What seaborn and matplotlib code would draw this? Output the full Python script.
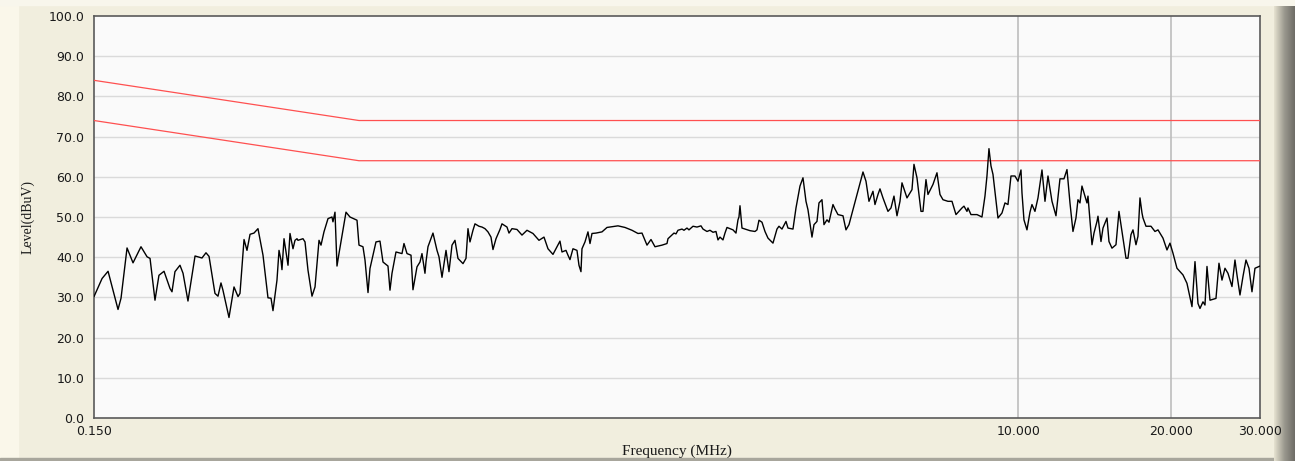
import numpy as np
import pandas as pd
import seaborn as sns
import matplotlib.pyplot as plt
from matplotlib.ticker import FixedLocator, NullLocator

# scan trace (MHz, dBuV)
freq_mhz = [
    0.150, 0.1556, 0.1599, 0.1673, 0.1696, 0.1743, 0.1791, 0.1857, 0.1909, 0.1935,
    0.1979, 0.2015, 0.2062, 0.2119, 0.2138, 0.2167, 0.2217, 0.2248, 0.2299, 0.2374,
    0.2450, 0.2495, 0.2530, 0.2599, 0.2635, 0.2671, 0.2695, 0.2770, 0.2834, 0.2886,
    0.2912, 0.2952, 0.2966, 0.3006, 0.3048, 0.3103, 0.3160, 0.3233, 0.3307, 0.3353,
    0.3383, 0.3445, 0.3477, 0.3508, 0.3524, 0.3557, 0.3605, 0.3622, 0.3655, 0.3705,
    0.3739, 0.3773, 0.3790, 0.3877, 0.3913, 0.3966, 0.4039, 0.4095, 0.4170, 0.4208,
    0.4265, 0.4344, 0.4423, 0.4443, 0.4484, 0.4525, 0.4566, 0.4714, 0.4800, 0.4956,
    0.5001, 0.5092, 0.5139, 0.5210, 0.5257, 0.5402, 0.5501, 0.5577, 0.5705, 0.5757,
    0.5810, 0.5916, 0.6080, 0.6135, 0.6220, 0.6334, 0.6391, 0.6509, 0.6598, 0.6658,
    0.6749, 0.6780, 0.6842, 0.6999, 0.7128, 0.7193, 0.7292, 0.7426, 0.7527, 0.7631,
    0.7735, 0.7841, 0.8022, 0.8132, 0.8206, 0.8281, 0.8394, 0.8471, 0.8626, 0.8745,
    0.8865, 0.8986, 0.9110, 0.9193, 0.9320, 0.9490, 0.9577, 0.9797, 0.9887, 1.0022,
    1.0252, 1.0488, 1.0729, 1.1025, 1.1330, 1.1591, 1.1803, 1.2074, 1.2464, 1.2578,
    1.2809, 1.2926, 1.3044, 1.3223, 1.3465, 1.3588, 1.3712, 1.3775, 1.3964, 1.4155,
    1.4286, 1.4416, 1.4681, 1.5086, 1.5433, 1.6224, 1.6748, 1.7289, 1.7767, 1.8094,
    1.8510, 1.8849, 1.9194, 1.9815, 2.0270, 2.0362, 2.0924, 2.1116, 2.1308, 2.1699,
    2.1897, 2.2197, 2.2400, 2.2812, 2.3230, 2.3656, 2.3872, 2.4310, 2.4643, 2.4981,
    2.5324, 2.5555, 2.5788, 2.6142, 2.6381, 2.6622, 2.7110, 2.7357, 2.7733, 2.7986,
    2.8113, 2.8243, 2.8501, 2.8892, 2.9556, 3.0235, 3.0511, 3.0789, 3.1212, 3.1640,
    3.2074, 3.2810, 3.3412, 3.3717, 3.4180, 3.4807, 3.5124, 3.5933, 3.6427, 3.7094,
    3.7603, 3.8120, 3.8467, 3.9173, 3.9530, 4.0072, 4.0439, 4.0993, 4.1367, 4.1934,
    4.2318, 4.3093, 4.3487, 4.4083, 4.5099, 4.5719, 4.6346, 4.7195, 4.8062, 4.8942,
    4.9388, 5.0067, 5.0754, 5.1683, 5.2156, 5.2872, 5.3353, 5.4086, 5.5328, 5.6091,
    5.6861, 5.7642, 5.8432, 5.8966, 6.0321, 6.1706, 6.2269, 6.3123, 6.4280, 6.4866,
    6.5757, 6.6357, 6.7882, 6.9126, 7.0079, 7.1040, 7.2673, 7.4006, 7.5363, 7.7445,
    7.8151, 7.9224, 7.9585, 8.0676, 8.2905, 8.4810, 8.5974, 8.6758, 8.7550, 8.8355,
    8.9162, 9.1211, 9.2883, 9.4158, 9.5450, 9.6758, 9.8533, 9.9886, 10.126, 10.172,
    10.264, 10.405, 10.548, 10.644, 10.790, 10.939, 11.140, 11.293, 11.448, 11.658,
    11.871, 12.089, 12.311, 12.480, 12.651, 12.824, 13.000, 13.119, 13.239, 13.359,
    13.543, 13.666, 13.729, 13.982, 14.109, 14.303, 14.368, 14.565, 14.698, 14.968,
    15.104, 15.311, 15.592, 15.806, 16.023, 16.317, 16.465, 16.691, 16.844, 17.075,
    17.231, 17.389, 17.548, 17.628, 17.870, 18.280, 18.615, 18.871, 19.304, 19.658,
    19.928, 20.201, 20.572, 21.140, 21.528, 22.024, 22.327, 22.633, 22.839, 23.153,
    23.364, 23.578, 23.901, 24.561, 24.898, 25.240, 25.586, 25.937, 26.413, 26.775,
    27.019, 27.391, 27.767, 28.148, 28.535, 28.926, 29.323, 30.000,
]
level_dbuv = [
    30.2, 34.7, 36.5, 27.0, 29.8, 42.3, 38.6, 42.6, 40.1, 39.7,
    29.3, 35.5, 36.5, 32.2, 31.4, 36.4, 38.0, 36.0, 29.1, 40.3,
    39.8, 41.1, 40.2, 31.0, 30.3, 33.6, 31.8, 25.0, 32.6, 30.2,
    31.0, 41.1, 44.4, 41.7, 45.7, 46.0, 47.1, 40.5, 29.9, 29.8,
    26.7, 34.3, 41.7, 39.3, 36.9, 44.6, 39.7, 38.0, 45.9, 42.1,
    44.2, 44.6, 44.2, 44.6, 43.8, 36.8, 30.3, 32.6, 44.2, 43.0,
    46.3, 49.6, 50.0, 48.8, 51.2, 37.8, 40.9, 51.2, 50.0, 49.2,
    43.0, 42.6, 39.3, 31.2, 37.2, 43.8, 44.0, 38.8, 37.8, 31.8,
    36.0, 41.3, 40.9, 43.4, 40.9, 40.5, 31.9, 37.6, 38.8, 40.9,
    36.0, 38.8, 42.6, 46.0, 41.7, 40.1, 35.0, 41.7, 36.4, 43.0,
    44.2, 39.7, 38.4, 39.7, 47.1, 43.8, 46.7, 48.3, 47.7, 47.5,
    47.1, 46.3, 45.0, 41.9, 44.6, 46.9, 48.3, 47.5, 46.0, 47.1,
    46.9, 45.5, 46.7, 45.9, 44.2, 45.0, 42.1, 40.7, 44.0, 41.3,
    41.7, 40.5, 39.4, 42.1, 41.7, 38.0, 36.4, 42.1, 43.8, 46.3,
    43.4, 45.9, 46.0, 46.3, 47.4, 47.8, 47.4, 46.7, 45.9, 46.0,
    43.0, 44.4, 42.6, 43.0, 43.4, 44.6, 46.0, 45.8, 46.7, 47.0,
    46.7, 47.25, 46.8, 47.7, 47.5, 47.8, 47.0, 46.4, 46.7, 46.2,
    46.4, 44.3, 45.0, 44.3, 46.0, 47.4, 47.0, 46.8, 46.0, 49.3,
    50.0, 52.8, 47.25, 47.0, 46.6, 46.4, 46.8, 49.2, 48.7, 46.4,
    44.75, 43.5, 47.0, 47.7, 47.0, 48.9, 47.25, 47.0, 52.25, 57.7,
    59.75, 53.9, 51.8, 45.0, 48.1, 48.9, 53.5, 54.3, 48.1, 49.3,
    48.7, 53.1, 52.0, 50.6, 50.3, 46.8, 48.1, 51.8, 55.6, 59.3,
    61.2, 58.9, 53.9, 56.4, 53.1, 55.6, 57.0, 54.75, 51.4, 52.25,
    55.2, 50.3, 53.9, 58.5, 54.75, 56.8, 63.1, 59.75, 51.4, 51.4,
    59.3, 55.6, 58.1, 61.0, 55.6, 54.3, 53.9, 53.9, 50.6, 52.25,
    52.7, 51.4, 52.25, 50.6, 50.6, 50.0, 55.2, 60.2, 67.0, 62.7,
    60.6, 49.75, 51.0, 53.5, 53.1, 60.2, 60.2, 58.9, 61.7, 56.0,
    49.3, 46.8, 51.2, 53.1, 51.4, 54.75, 61.7, 53.9, 60.2, 53.9,
    50.3, 59.5, 59.5, 61.8, 53.5, 46.4, 49.75, 54.3, 53.5, 57.7,
    55.2, 53.5, 55.2, 43.1, 46.0, 48.9, 50.2, 43.9, 47.25, 49.75,
    43.9, 42.25, 43.1, 51.4, 46.4, 39.75, 39.75, 45.6, 46.8, 43.1,
    45.2, 54.75, 51.0, 49.75, 47.7, 47.7, 46.4, 46.8, 44.75, 41.8,
    43.5, 41.0, 37.25, 35.6, 33.5, 27.7, 38.9, 28.5, 27.25, 28.9,
    28.1, 37.7, 29.3, 29.75, 38.5, 34.3, 37.25, 36.0, 32.7, 39.3,
    35.6, 30.6, 35.2, 39.3, 37.25, 31.4, 37.25, 37.8,
]

# limit lines (QP and AV)
limit_freq = [0.15, 0.5, 30.0]
qp_limit = [84.0, 74.0, 74.0]
av_limit = [74.0, 64.0, 64.0]

xtick_vals = [0.15, 10.0, 20.0, 30.0]
xtick_text = ["0.150", "10.000", "20.000", "30.000"]
ytick_vals = [0, 10, 20, 30, 40, 50, 60, 70, 80, 90, 100]

BEIGE = "#F1EEDE"
PLOT_BG = "#FAFAFA"

sns.set_style("white", {"axes.facecolor": PLOT_BG, "figure.facecolor": BEIGE})
plt.rcParams["font.family"] = ["DejaVu Sans"]

fig = plt.figure(figsize=(12.95, 4.61), dpi=100)
fig.patch.set_facecolor(BEIGE)

# lighter strips on the left / top and shaded frame on the right / bottom
fig.add_artist(plt.Rectangle((0, 0), 18 / 1295, 1, transform=fig.transFigure,
                             color="#FAF7EA", zorder=0))
fig.add_artist(plt.Rectangle((0, 1 - 5 / 461), 1, 5 / 461, transform=fig.transFigure,
                             color="#F8F6EC", zorder=0))
shade = fig.add_axes([1274 / 1295, 0, 21 / 1295, 1 - 6 / 461])
shade.imshow(np.linspace(0, 1, 50)[None, :], aspect="auto",
             cmap=sns.blend_palette(["#E6E2D0", "#9A988E", "#6E6C66"], as_cmap=True))
shade.set_axis_off()
fig.add_artist(plt.Rectangle((0, 0), 1, 3 / 461, transform=fig.transFigure,
                             color="#A8A69C", zorder=0))

ax = fig.add_axes([94 / 1295, 1 - 418 / 461, 1166 / 1295, 402 / 461])
ax.set_facecolor(PLOT_BG)

df = pd.DataFrame({"freq": freq_mhz, "level": level_dbuv})
lim = pd.DataFrame({"freq": limit_freq, "qp": qp_limit, "av": av_limit})

sns.lineplot(data=lim, x="freq", y="qp", ax=ax, color="#FF5050", lw=0.9,
             estimator=None, sort=False, zorder=3)
sns.lineplot(data=lim, x="freq", y="av", ax=ax, color="#FF5050", lw=0.9,
             estimator=None, sort=False, zorder=3)
sns.lineplot(data=df, x="freq", y="level", ax=ax, color="black", lw=1.0,
             estimator=None, sort=False, zorder=4)

ax.set_xscale("log")
ax.set_xlim(0.15, 30)
ax.set_ylim(0, 100)

ax.xaxis.set_major_locator(FixedLocator(xtick_vals))
ax.xaxis.set_minor_locator(NullLocator())
ax.set_xticklabels(xtick_text)
ax.set_yticks(ytick_vals)
ax.set_yticklabels([f"{v:.1f}" for v in ytick_vals])

for v in ytick_vals[1:-1]:
    ax.axhline(v, color="#DADADA", lw=1.0, zorder=1)
for v in xtick_vals[1:3]:
    ax.axvline(v, color="#BDBDBD", lw=1.2, zorder=1)

ax.tick_params(axis="both", direction="out", length=5, width=1.0,
               color="#404040", labelsize=9, labelcolor="#1A1A1A", pad=2)
ax.tick_params(axis="x", length=4, pad=1)

for side in ["left", "bottom", "top", "right"]:
    ax.spines[side].set_visible(True)
    ax.spines[side].set_color("#5A5A5A")
    ax.spines[side].set_linewidth(1.2)

ax.set_xlabel("Frequency (MHz)", family=["Liberation Serif", "DejaVu Serif"],
              fontsize=11, labelpad=5, color="#1A1A1A")
ax.set_ylabel("Level(dBuV)", family=["Liberation Serif", "DejaVu Serif"],
              fontsize=10, labelpad=10, color="#1A1A1A")

fig.savefig("out.png", dpi=100, facecolor=BEIGE)
